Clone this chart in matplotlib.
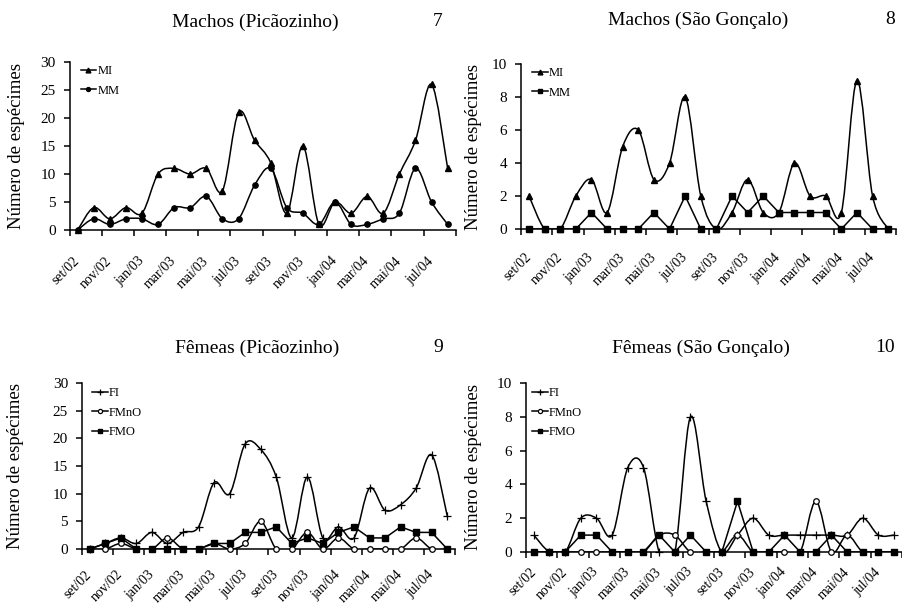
import matplotlib
matplotlib.use('Agg')
import matplotlib.pyplot as plt
import numpy as np
from matplotlib.path import Path
from matplotlib.patches import PathPatch
from matplotlib.lines import Line2D

plt.rcParams['font.family'] = ['Liberation Serif', 'DejaVu Serif']

# meses de coleta (set/02 a ago/04)
meses = ['set/02', 'out/02', 'nov/02', 'dez/02', 'jan/03', 'fev/03', 'mar/03', 'abr/03',
         'mai/03', 'jun/03', 'jul/03', 'ago/03', 'set/03', 'out/03', 'nov/03', 'dez/03',
         'jan/04', 'fev/04', 'mar/04', 'abr/04', 'mai/04', 'jun/04', 'jul/04', 'ago/04']
rotulos = meses[::2]

# 7 - Machos (Picãozinho)
pic_mi = [0, 4, 2, 4, 3, 10, 11, 10, 11, 7, 21, 16, 12, 3, 15, 1, 5, 3, 6, 3, 10, 16, 26, 11]
pic_mm = [0, 2, 1, 2, 2, 1, 4, 4, 6, 2, 2, 8, 11, 4, 3, 1, 5, 1, 1, 2, 3, 11, 5, 1]

# 8 - Machos (São Gonçalo)
sg_mi = [2, 0, 0, 2, 3, 1, 5, 6, 3, 4, 8, 2, 0, 1, 3, 1, 1, 4, 2, 2, 1, 9, 2, 0]
sg_mm = [0, 0, 0, 0, 1, 0, 0, 0, 1, 0, 2, 0, 0, 2, 1, 2, 1, 1, 1, 1, 0, 1, 0, 0]

# 9 - Fêmeas (Picãozinho)
pic_fi = [0, 1, 2, 1, 3, 1, 3, 4, 12, 10, 19, 18, 13, 2, 13, 2, 4, 2, 11, 7, 8, 11, 17, 6]
pic_fmno = [0, 0, 1, 0, 0, 2, 0, 0, 1, 0, 1, 5, 0, 0, 3, 0, 2, 0, 0, 0, 0, 2, 0, 0]
pic_fmo = [0, 1, 2, 0, 0, 0, 0, 0, 1, 1, 3, 3, 4, 1, 2, 1, 3, 4, 2, 2, 4, 3, 3, 0]

# 10 - Fêmeas (São Gonçalo)
sg_fi = [1, 0, 0, 2, 2, 1, 5, 5, 0, 0, 8, 3, 0, 1, 2, 1, 1, 1, 1, 1, 1, 2, 1, 1]
sg_fmno = [0, 0, 0, 0, 0, 0, 0, 0, 1, 1, 0, 0, 0, 1, 0, 0, 0, 0, 3, 0, 1, 0, 0, 0]
sg_fmo = [0, 0, 0, 1, 1, 0, 0, 0, 1, 0, 1, 0, 0, 3, 0, 0, 1, 0, 0, 1, 0, 0, 0, 0]

W, H = 903, 608
fig = plt.figure(figsize=(W / 100, H / 100), dpi=100)

ESTILO = {
    'MI': dict(marker='^', ms=4.6, mfc='k'),
    'MM': dict(marker='o', ms=3.8, mfc='k'),
    'MMq': dict(marker='s', ms=3.8, mfc='k'),
    'FI': dict(marker='+', ms=5.5, mew=0.9),
    'FMnO': dict(marker='o', ms=4.0, mfc='white', mew=0.9),
    'FMO': dict(marker='s', ms=3.8, mfc='k'),
}


def linha_suave(ax, y):
    # curva suavizada estilo Excel (Bezier de Catmull-Rom)
    pts = np.column_stack([np.arange(len(y), dtype=float), np.asarray(y, dtype=float)])
    ext = np.vstack([pts[0], pts, pts[-1]])
    verts, codes = [pts[0]], [Path.MOVETO]
    for i in range(len(pts) - 1):
        p0, p1, p2, p3 = ext[i], ext[i + 1], ext[i + 2], ext[i + 3]
        verts += [p1 + (p2 - p0) / 6, p2 - (p3 - p1) / 6, p2]
        codes += [Path.CURVE4] * 3
    ax.add_patch(PathPatch(Path(verts, codes), fc='none', ec='k', lw=1.1, zorder=2))


def serie(ax, y, estilo, suave=True):
    x = np.arange(len(y))
    if suave:
        linha_suave(ax, y)
    else:
        ax.plot(x, y, color='k', lw=1.1, zorder=2)
    ax.plot(x, y, ls='none', color='k', mec='k', zorder=3, clip_on=False, **ESTILO[estilo])


def painel(box, ymax, ystep, titulo, num, tx, ty, nx, ylab_x, series, leg_dx, leg_dy, xpad):
    left, right, top, bottom = box
    ax = fig.add_axes([left / W, 1 - bottom / H, (right - left) / W, (bottom - top) / H])
    nomes = []
    for y, estilo, nome, suave in series:
        serie(ax, y, estilo, suave)
        nomes.append((nome, estilo))
    ax.set_xlim(-0.5, len(meses) - 0.5)
    ax.set_ylim(0, ymax)
    ax.set_yticks(np.arange(0, ymax + 0.1, ystep))
    ax.set_xticks(np.arange(-0.5, len(meses), 2))
    ax.set_xticklabels([])
    ax.set_xticks(np.arange(0, len(meses), 2), minor=True)
    ax.set_xticklabels(rotulos, minor=True, rotation=45, ha='right', va='center',
                       rotation_mode='anchor', fontsize=10)
    ax.tick_params(axis='x', which='minor', length=0, pad=xpad)
    ax.tick_params(axis='x', which='major', direction='out', length=4, width=1.1)
    ax.tick_params(axis='y', direction='out', length=4.5, width=1.1, labelsize=11, pad=5.5)
    for s in ['top', 'right']:
        ax.spines[s].set_visible(False)
    for s in ['left', 'bottom']:
        ax.spines[s].set_linewidth(1.1)
    ax.set_ylabel('Número de espécimes', fontsize=13.5)
    ax.yaxis.set_label_coords((ylab_x - left) / (right - left), 0.5)

    handles = [Line2D([], [], color='k', lw=1.1, **ESTILO[e]) for n, e in nomes]
    ax.legend(handles, [n for n, e in nomes], loc='upper left', frameon=False,
              bbox_to_anchor=(leg_dx / (right - left), 1 - leg_dy / (bottom - top)),
              borderaxespad=0, borderpad=0, fontsize=9, handlelength=1.25,
              handletextpad=0.1, labelspacing=0.6, markerscale=0.75)

    fig.text(tx / W, 1 - ty / H, titulo, ha='center', va='center', fontsize=14)
    fig.text(nx / W, 1 - ty / H, num, ha='center', va='center', fontsize=14)
    return ax


painel((69.6, 455.7, 62, 230), 30, 5, 'Machos (Picãozinho)', '7', 255, 22, 438, 24.5,
       [(pic_mi, 'MI', 'MI', True), (pic_mm, 'MM', 'MM', True)], 11, 3, 21)
painel((521.2, 896, 64, 229), 10, 2, 'Machos (São Gonçalo)', '8', 698, 20, 890, 482,
       [(sg_mi, 'MI', 'MI', True), (sg_mm, 'MMq', 'MM', False)], 11, 3, 19)
painel((82, 455, 383, 549), 30, 5, 'Fêmeas (Picãozinho)', '9', 257, 348, 438, 24,
       [(pic_fi, 'FI', 'FI', True), (pic_fmno, 'FMnO', 'FMnO', True),
        (pic_fmo, 'FMO', 'FMO', False)], 10, 4, 17)
painel((526, 902, 383, 552), 10, 2, 'Fêmeas (São Gonçalo)', '10', 701, 348, 885, 482,
       [(sg_fi, 'FI', 'FI', True), (sg_fmno, 'FMnO', 'FMnO', True),
        (sg_fmo, 'FMO', 'FMO', False)], 6, 4, 13)

fig.savefig('out.png', dpi=100)
